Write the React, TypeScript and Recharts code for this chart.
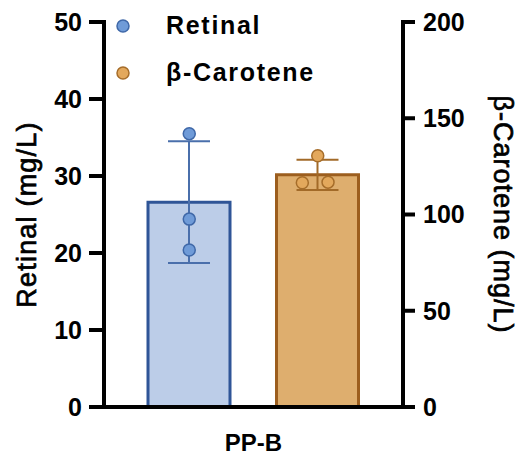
import { ComposedChart, Bar, Scatter, XAxis, YAxis, ErrorBar, Legend } from 'recharts';

const groups = ['Retinal', 'β-Carotene'];
const meanValues = [26.6, 120.6];
const sdValues = [7.9, 7.9];
const retinalPoints = [35.5, 24.4, 20.4];
const carotenePoints = [130.5, 116.5, 116.8];
const retinalTicks = [0, 10, 20, 30, 40, 50];
const caroteneTicks = [0, 50, 100, 150, 200];
const groupLabel = 'PP-B';

const FONT = '"Liberation Sans", Arial, sans-serif';

const blue = { fill: '#bccde8', stroke: '#2f5597', err: '#4a6fab', dot: '#6f9bd8', dotStroke: '#3f68a8' };
const brown = { fill: '#deae6e', stroke: '#9c5e1e', err: '#a26a28', dot: '#e3a85c', dotStroke: '#a66d2a' };

// horizontal spread of the replicate dots (x units)
const jitter = [0, -0.12, 0.08];

const barData = groups.map((name, i) => ({
  name,
  retinal: i === 0 ? meanValues[0] : null,
  retinalSd: i === 0 ? sdValues[0] : undefined,
  carotene: i === 1 ? meanValues[1] : null,
  caroteneSd: i === 1 ? sdValues[1] : undefined,
}));

const retinalDots = retinalPoints.map((y) => ({ x: 1, y }));
const caroteneDots = carotenePoints.map((y, i) => ({ x: 2 + jitter[i], y }));

const axisLine = { stroke: '#000', strokeWidth: 4, strokeLinecap: 'square' as const };
const tickLine = { stroke: '#000', strokeWidth: 4 };

const dotShape = (fill: string, stroke: string) => (p: any) =>
  <circle cx={p.cx} cy={p.cy} r={6} fill={fill} stroke={stroke} strokeWidth={1.5} />;

const legendStyles = [blue, brown];

// semi-bold look for the axis titles
const titleProps = { fill: '#000', fontSize: 27, fontFamily: FONT, stroke: '#000', strokeWidth: 0.7 };

function App() {
  return (
    <div style={{ position: 'absolute', left: 0, top: 0 }}>
      <ComposedChart width={520} height={457} data={barData} margin={{ top: 22, right: 0, bottom: 0, left: 0 }}>
        <XAxis
          xAxisId="a"
          dataKey="name"
          padding={{ left: 21, right: 21 }}
          height={50}
          axisLine={axisLine}
          tickLine={false}
          tick={false}
          label={{ value: groupLabel, position: 'insideBottom', offset: 6, fill: '#000', fontSize: 24, fontWeight: 700, fontFamily: FONT }}
        />
        <XAxis xAxisId="b" dataKey="name" padding={{ left: 21, right: 21 }} hide />
        <XAxis xAxisId="pts" type="number" dataKey="x" domain={[0.5, 2.5]} padding={{ left: 21, right: 21 }} hide />
        <YAxis
          yAxisId="left"
          width={104}
          domain={[0, 50]}
          ticks={retinalTicks}
          interval={0}
          axisLine={axisLine}
          tickLine={tickLine}
          tickSize={15}
          tickMargin={7}
          tick={{ fill: '#000', fontSize: 25, fontWeight: 700, fontFamily: FONT }}
          label={(props: any) => {
            const vb = props.viewBox;
            const x = vb.x + 27;
            const y = vb.y + vb.height / 2;
            return (
              <text x={x} y={y} transform={`rotate(-90, ${x}, ${y})`} textAnchor="middle" dominantBaseline="central"
                letterSpacing={1.2} {...titleProps}>
                Retinal (mg/L)
              </text>
            );
          }}
        />
        <YAxis
          yAxisId="right"
          orientation="right"
          width={117}
          domain={[0, 200]}
          ticks={caroteneTicks}
          interval={0}
          axisLine={axisLine}
          tickLine={tickLine}
          tickSize={12}
          tickMargin={8}
          tick={{ fill: '#000', fontSize: 25, fontWeight: 700, fontFamily: FONT }}
          label={(props: any) => {
            const vb = props.viewBox;
            const x = vb.x + 100;
            const y = vb.y + vb.height / 2;
            return (
              <text x={x} y={y} transform={`rotate(90, ${x}, ${y})`} textAnchor="middle" dominantBaseline="central"
                letterSpacing={1} {...titleProps}>
                β-Carotene (mg/L)
              </text>
            );
          }}
        />
        <Legend
          layout="vertical"
          align="center"
          verticalAlign="middle"
          wrapperStyle={{ position: 'absolute', left: 116, top: 2, width: 'auto' }}
          content={({ payload }: any) => (
            <div>
              {(payload || []).filter((e: any) => e.type !== 'none').map((e: any, i: number) => (
                <div key={e.value} style={{ display: 'flex', alignItems: 'center', height: 47 }}>
                  <svg width={14} height={14}>
                    <circle cx={7} cy={7} r={6} fill={legendStyles[i].dot} stroke={legendStyles[i].dotStroke} strokeWidth={1.5} />
                  </svg>
                  <span style={{ marginLeft: 36, fontFamily: FONT, fontSize: 25, fontWeight: 700, letterSpacing: 1.7, color: '#000' }}>
                    {e.value}
                  </span>
                </div>
              ))}
            </div>
          )}
        />
        <Bar xAxisId="a" yAxisId="left" dataKey="retinal" barSize={82} fill={blue.fill} stroke={blue.stroke}
          strokeWidth={3} legendType="none" isAnimationActive={false}>
          <ErrorBar dataKey="retinalSd" direction="y" width={21} stroke={blue.err} strokeWidth={2} />
        </Bar>
        <Bar xAxisId="b" yAxisId="right" dataKey="carotene" barSize={82} fill={brown.fill} stroke={brown.stroke}
          strokeWidth={3} legendType="none" isAnimationActive={false}>
          <ErrorBar dataKey="caroteneSd" direction="y" width={21} stroke={brown.err} strokeWidth={2} />
        </Bar>
        <Scatter name={groups[0]} xAxisId="pts" yAxisId="left" data={retinalDots} dataKey="y" legendType="circle"
          fill={blue.dot} shape={dotShape(blue.dot, blue.dotStroke)} isAnimationActive={false} />
        <Scatter name={groups[1]} xAxisId="pts" yAxisId="right" data={caroteneDots} dataKey="y" legendType="circle"
          fill={brown.dot} shape={dotShape(brown.dot, brown.dotStroke)} isAnimationActive={false} />
      </ComposedChart>
    </div>
  );
}

export default App;
